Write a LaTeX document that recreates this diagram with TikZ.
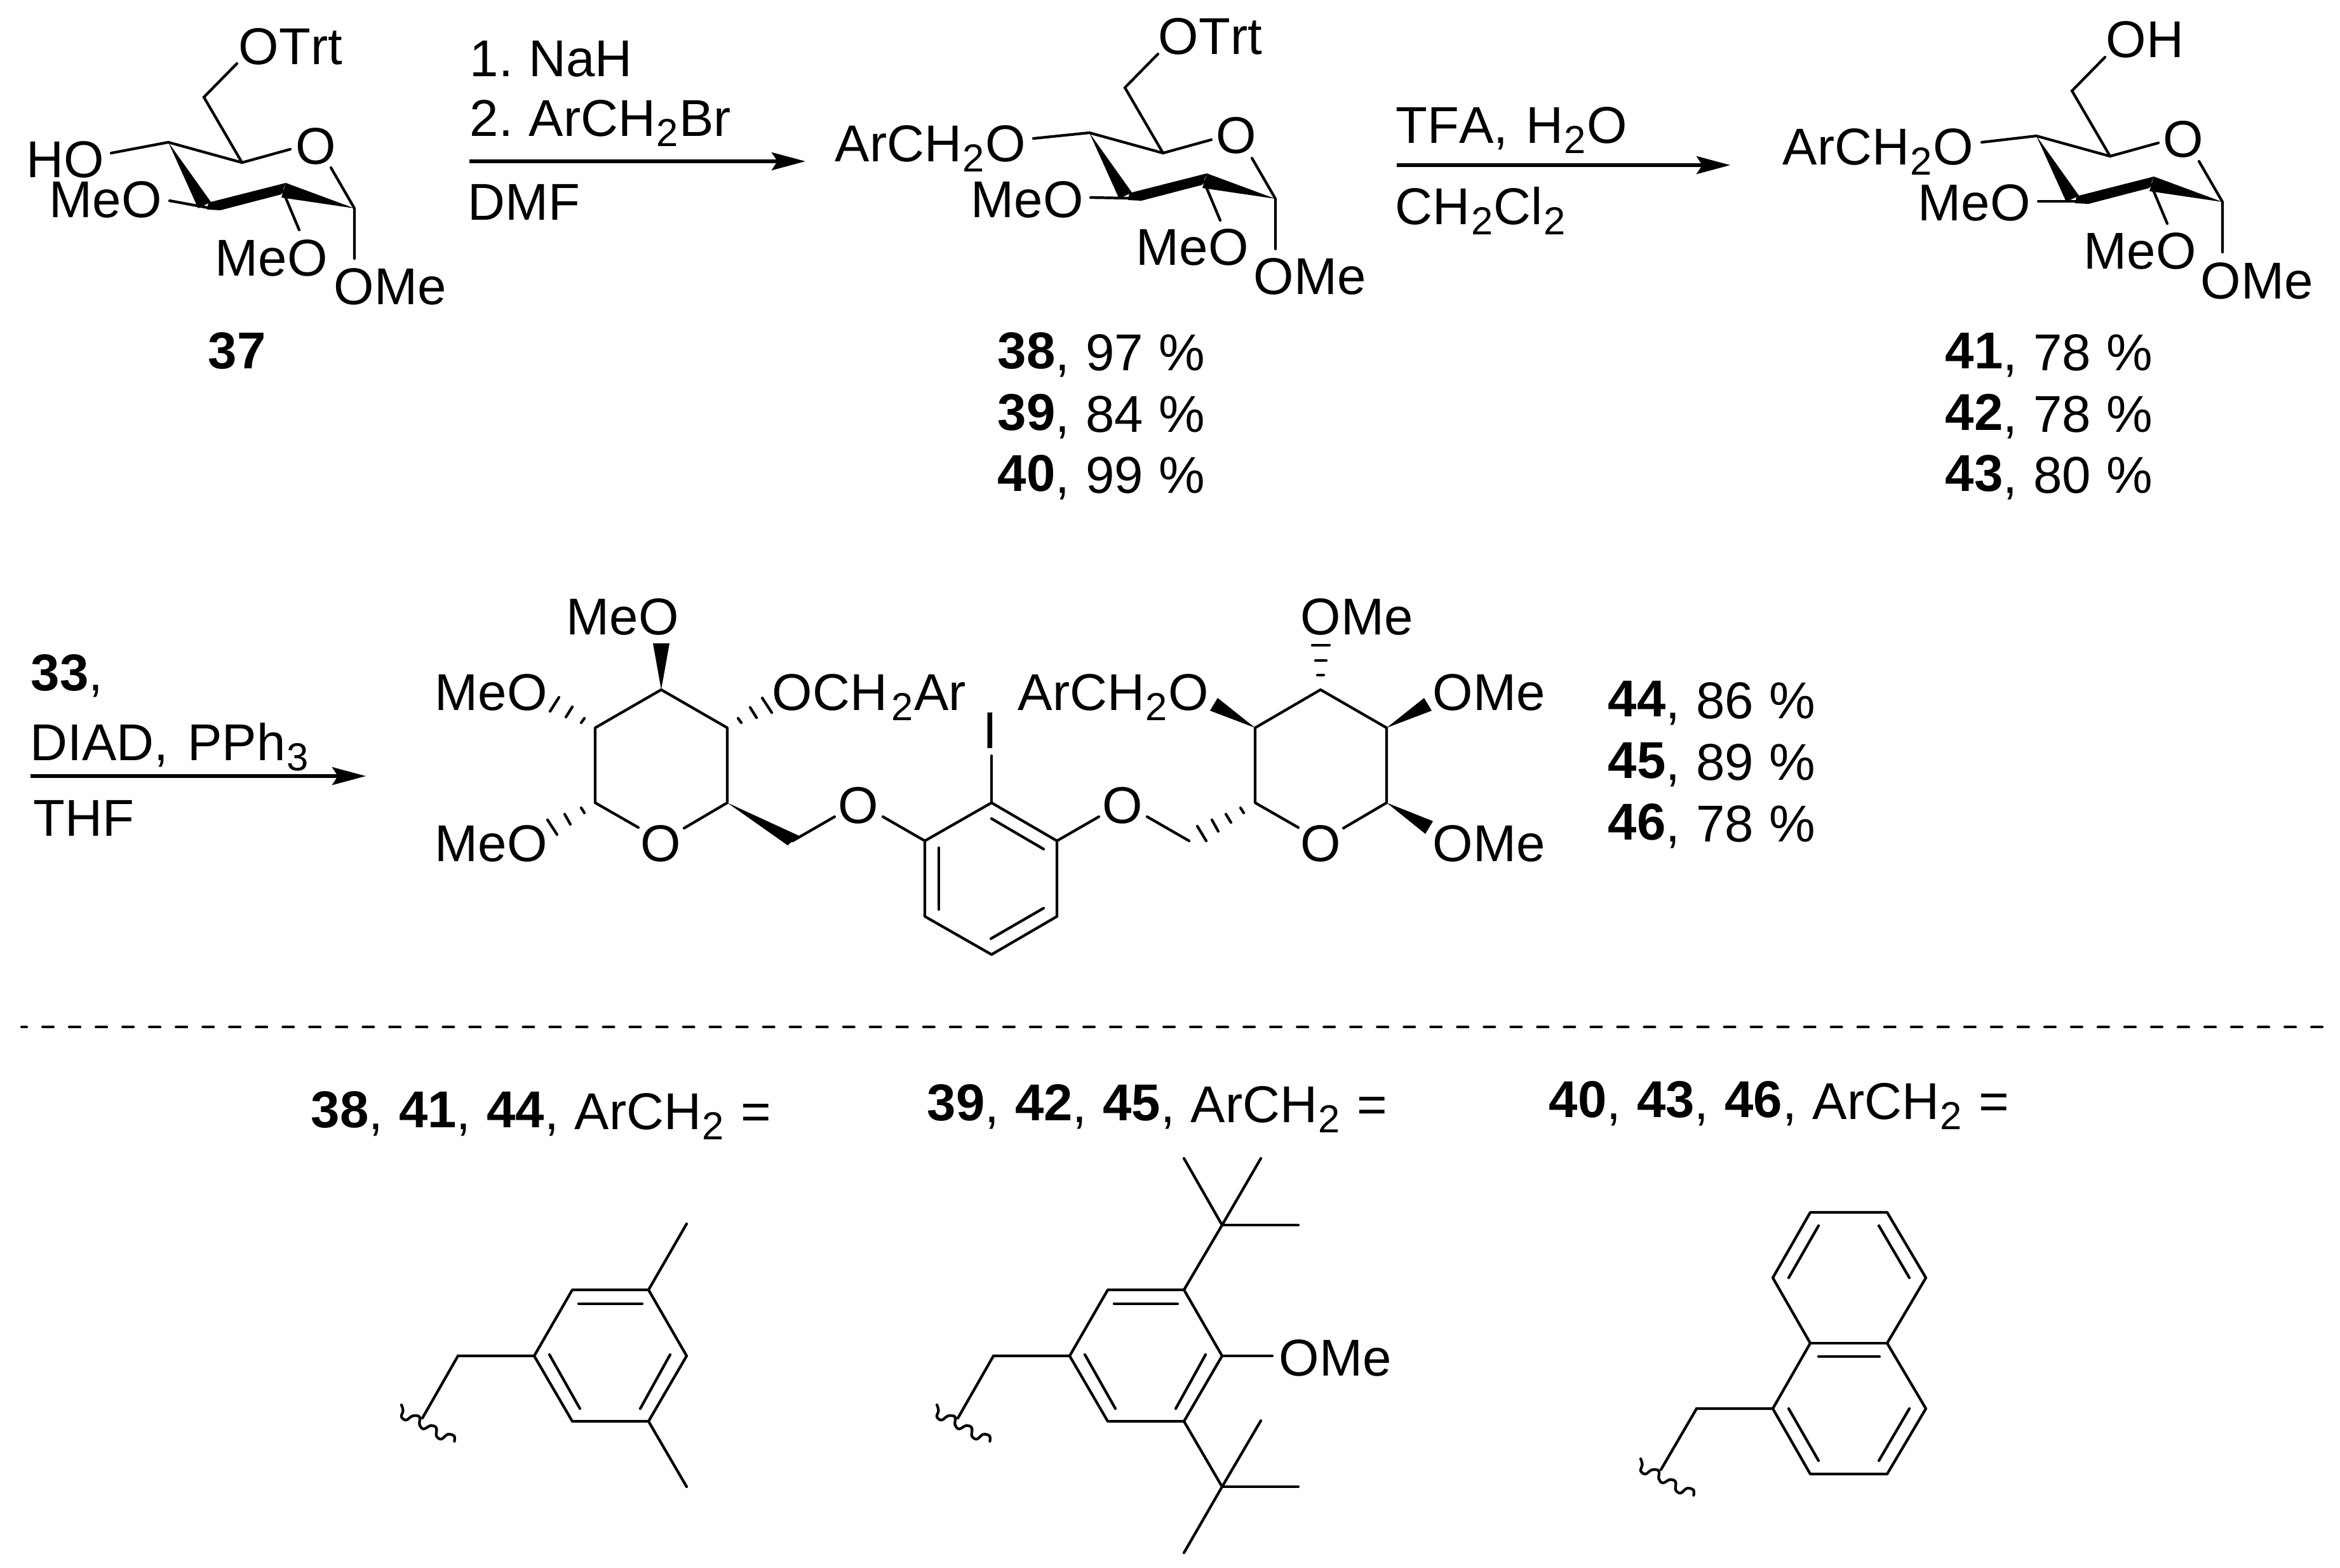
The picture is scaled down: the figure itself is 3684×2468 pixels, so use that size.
\documentclass[tikz,border=0pt]{standalone}
\usepackage{fontspec}
\setmainfont[Kerning=Off]{Liberation Sans}
\usetikzlibrary{arrows.meta}
\def\atomfont{\fontsize{23.2}{26}\selectfont\frenchspacing\setlength{\spaceskip}{0.25cm}}
\tikzset{
	atom/.style={inner sep=0, anchor=base west, font=\atomfont},
	bond/.style={line width=1.2pt, line cap=round},
	wedge/.style={fill=black},
	rxn/.style={line width=1.45pt, -{Stealth[length=0.53cm, width=0.28cm, inset=0.09cm]}}
}
\def\sub#1{\kern0.015cm\raisebox{-0.165cm}{\fontsize{17.5}{18}\selectfont #1}\kern0.015cm\relax}
\def\cpd#1{\raisebox{0.03cm}{\bfseries #1}}
\def\wiggle(#1,#2){\draw[bond, shift={(#1,#2)}] plot[smooth, tension=0.6] coordinates {(0,0) (2.5,9) (0,19) (7.5,24) (17.5,17.5) (28.5,19) (28.5,31.5) (35,38) (46.6,32.5) (55,36.5) (55,49) (62.8,54) (72.8,46.5) (82.9,49) (83.4,57.5)};}
% sugar ring seen from the side, drawn where molecule 37 stands
\def\glycore{
	\coordinate (c1) at (558,328);
	\coordinate (c2) at (448,298);
	\coordinate (c3) at (327,327);
	\coordinate (c4) at (265,224);
	\coordinate (c5) at (381,256);
	\coordinate (c6) at (321,153);
	\draw[bond] (c4) -- (c5) -- (457,235);
	\draw[bond] (521,264) -- (c1) -- (558,407);
	\draw[bond] (c5) -- (c6) -- (373,100);
	\draw[bond] (445,300) -- (471,362);
	\fill[wedge] (c4) -- (312,328) -- (332,318) -- cycle;
	\fill[wedge] (328,319) -- (450,288) -- (443,306) -- (347,331) -- (326,330) -- cycle;
	\fill[wedge] (c1) -- (450,288) -- (443,311) -- cycle;
}
% benzyl ring with its tail
\def\benzyl{
	\coordinate (r1) at (841,2135);
	\coordinate (r2) at (901,2031);
	\coordinate (r3) at (1021,2031);
	\coordinate (r4) at (1081,2135);
	\coordinate (r5) at (1021,2238);
	\coordinate (r6) at (901,2238);
	\draw[bond, line join=round] (r1) -- (r2) -- (r3) -- (r4) -- (r5) -- (r6) -- cycle;
	\draw[bond] (911,2053) -- (1011,2053);
	\draw[bond] (865,2133) -- (913,2218);
	\draw[bond] (1055,2133) -- (1008,2218);
	\draw[bond] (r1) -- (721,2135) -- (665,2233);
	\wiggle(632,2212)
}

\begin{document}
\begin{tikzpicture}[x=0.01cm, y=-0.01cm]
		\useasboundingbox (0,0) rectangle (3684,2468);
		
		%%%%% 37 %%%%%
		\begin{scope}[name prefix=a-]
			\glycore
			\draw[bond] (a-c4) -- (175,241);
			\draw[bond] (267,316) -- (a-c3);
			\node[atom] (a-trt) at (375,101) {OTrt};
			\node[atom] (a-ho) at (41,279) {HO};
			\node[atom] (a-me3) at (77,342) {MeO};
			\node[atom] (a-me2) at (338,434) {MeO};
			\node[atom] (a-me1) at (525,479) {OMe};
			\node[atom, anchor=base] (a-o) at (497,258) {O};
		\end{scope}
		\node[atom] (n37) at (327,580) {\bfseries 37};
		
		%%%%% first arrow %%%%%
		\node[atom] (nah) at (739,120) {1. NaH};
		\node[atom] (arbr) at (739,214) {2. ArCH\sub{2}Br};
		\node[atom] (dmf) at (736,346) {DMF};
		\coordinate (s1) at (739,254);
		\coordinate (e1) at (1268,254);
		\draw[rxn] (s1) -- (e1);
		
		%%%%% 38 %%%%%
		\begin{scope}[shift={(1450,-15)}, name prefix=b-]
			\glycore
			\node[atom] (b-trt) at (373,100) {OTrt};
			\node[atom] (b-me2) at (338,432) {MeO};
			\node[atom] (b-me1) at (523,478) {OMe};
			\node[atom, anchor=base] (b-o) at (496,256) {O};
		\end{scope}
		\draw[bond] (b-c4) -- (1627,218);
		\draw[bond] (1717,311) -- (b-c3);
		\node[atom] (b-ar) at (1314,254) {ArCH\sub{2}O};
		\node[atom] (b-me3) at (1528,342) {MeO};
		\node[atom] (y38) at (1570,583) {\cpd{38}, 97 \%};
		\node[atom] (y39) at (1570,680) {\cpd{39}, 84 \%};
		\node[atom] (y40) at (1570,776) {\cpd{40}, 99 \%};
		
		%%%%% second arrow %%%%%
		\node[atom] (tfa) at (2197,225) {TFA,\hspace{0.03cm} H\sub{2}O};
		\node[atom] (dcm) at (2196,353) {CH\sub{2}Cl\sub{2}};
		\coordinate (s2) at (2199,260);
		\coordinate (e2) at (2724,260);
		\draw[rxn] (s2) -- (e2);
		
		%%%%% 41 %%%%%
		\begin{scope}[shift={(2941,-10)}, name prefix=c-]
			\glycore
			\node[atom] (c-oh) at (374,100) {OH};
			\node[atom] (c-me2) at (339,433) {MeO};
			\node[atom] (c-me1) at (523,480) {OMe};
			\node[atom, anchor=base] (c-o) at (496,257) {O};
		\end{scope}
		\draw[bond] (c-c4) -- (3120,224);
		\draw[bond] (3209,317) -- (c-c3);
		\node[atom] (c-ar) at (2806,259) {ArCH\sub{2}O};
		\node[atom] (c-me3) at (3019,347) {MeO};
		\node[atom] (y41) at (3062,583) {\cpd{41}, 78 \%};
		\node[atom] (y42) at (3062,680) {\cpd{42}, 78 \%};
		\node[atom] (y43) at (3062,776) {\cpd{43}, 80 \%};
		
		%%%%% third arrow %%%%%
		\node[atom] (n33) at (48,1087) {\bfseries 33\mdseries,};
		\node[atom] (diad) at (47,1197) {DIAD,\hspace{0.05cm} PPh\sub{3}};
		\node[atom] (thf) at (52,1316) {THF};
		\coordinate (s3) at (48,1222);
		\coordinate (e3) at (576,1222);
		\draw[rxn] (s3) -- (e3);
		
		%%%%% 44 left sugar %%%%%
		\draw[bond, line join=round] (1005,1303) -- (937,1264) -- (937,1146) -- (1041,1086) -- (1145,1146) -- (1145,1264) -- (1077,1304);
		\fill[wedge] (1041,1086) -- (1028,1013) -- (1054,1013) -- cycle;
		\fill[wedge] (1145,1264) -- (1258,1316) -- (1240,1331) -- cycle;
		\draw[bond] (1248,1324) -- (1314,1286);
		\draw[bond] (866,1120) -- (880,1098);
		\draw[bond] (891,1129) -- (901,1113);
		\draw[bond] (915,1138) -- (920,1131);
		\draw[bond] (862,1291) -- (877,1314);
		\draw[bond] (889,1282) -- (898,1298);
		\draw[bond] (915,1272) -- (920,1280);
		\draw[bond] (1200,1099) -- (1215,1122);
		\draw[bond] (1181,1114) -- (1191,1130);
		\draw[bond] (1162,1131) -- (1167,1138);
		\node[atom] (d-me4) at (891,999) {MeO};
		\node[atom] (d-me3) at (684,1118) {MeO};
		\node[atom] (d-me1) at (684,1356) {MeO};
		\node[atom] (d-ar) at (1215,1118) {OCH\kern0.05cm\sub{2}Ar};
		\node[atom, anchor=base] (d-o) at (1040,1356) {O};
		\node[atom, anchor=base] (d-ol) at (1351,1296) {O};
		
		%%%%% 44 middle ring %%%%%
		\draw[bond, line join=round] (1561,1264) -- (1456,1324) -- (1456,1443) -- (1561,1503) -- (1664,1443) -- (1664,1324) -- cycle;
		\draw[bond] (1561,1289) -- (1643,1337);
		\draw[bond] (1478,1335) -- (1478,1432);
		\draw[bond] (1643,1430) -- (1560,1478);
		\draw[bond] (1561,1264) -- (1561,1190);
		\draw[bond] (1390,1286) -- (1456,1324);
		\draw[bond] (1664,1324) -- (1730,1286);
		\node[atom, anchor=base] (iodo) at (1559,1178) {I};
		\node[atom, anchor=base] (d-or) at (1767,1296) {O};
		
		%%%%% 44 right sugar %%%%%
		\draw[bond, line join=round] (2044,1303) -- (1976,1264) -- (1976,1146) -- (2079,1086) -- (2183,1146) -- (2183,1264) -- (2115,1304);
		\draw[bond] (1806,1286) -- (1872,1324);
		\fill[wedge] (1976,1146) -- (1917,1099) -- (1905,1119) -- cycle;
		\fill[wedge] (2183,1146) -- (2242,1099) -- (2254,1119) -- cycle;
		\fill[wedge] (2183,1264) -- (2256,1293) -- (2244,1313) -- cycle;
		\draw[bond] (1885,1301) -- (1899,1324);
		\draw[bond] (1908,1291) -- (1918,1309);
		\draw[bond] (1930,1282) -- (1938,1295);
		\draw[bond] (1953,1272) -- (1958,1280);
		\draw[bond] (2066,1016) -- (2093,1016);
		\draw[bond] (2071,1040) -- (2088,1040);
		\draw[bond] (2074,1063) -- (2084,1063);
		\node[atom] (e-ar) at (1602,1118) {ArCH\sub{2}O};
		\node[atom] (e-me4) at (2047,999) {OMe};
		\node[atom] (e-me3) at (2255,1118) {OMe};
		\node[atom] (e-me1) at (2255,1356) {OMe};
		\node[atom, anchor=base] (e-o) at (2079,1356) {O};
		\node[atom] (y44) at (2531,1131) {\cpd{44}, 86 \%};
		\node[atom] (y45) at (2531,1228) {\cpd{45}, 89 \%};
		\node[atom] (y46) at (2531,1325) {\cpd{46}, 78 \%};
		
		%%%%% rule %%%%%
		\coordinate (rl) at (34,1617);
		\coordinate (rr) at (3660,1617);
		\draw[line width=1.15pt, line cap=round, dash pattern=on 0.17cm off 0.25cm, dash phase=0.09cm] (rl) -- (rr);
		
		%%%%% ArCH2 groups %%%%%
		\node[atom] (cap1) at (489,1778) {\cpd{38}, \cpd{41}, \cpd{44}, ArCH\sub{2} =};
		\node[atom] (cap2) at (1459,1767) {\cpd{39}, \cpd{42}, \cpd{45}, ArCH\sub{2} =};
		\node[atom] (cap3) at (2438,1762) {\cpd{40}, \cpd{43}, \cpd{46}, ArCH\sub{2} =};
		
		\begin{scope}[name prefix=m-]
			\benzyl
			\draw[bond] (m-r3) -- (1081,1927);
			\draw[bond] (m-r5) -- (1081,2341);
		\end{scope}
		
		\begin{scope}[shift={(843,0)}, name prefix=t-]
			\benzyl
			\coordinate (tu) at (1081,1929);
			\coordinate (tl) at (1081,2341);
			\draw[bond] (t-r3) -- (t-tu);
			\draw[bond] (t-tu) -- (1021,1824);
			\draw[bond] (t-tu) -- (1142,1824);
			\draw[bond] (t-tu) -- (1201,1929);
			\draw[bond] (t-r5) -- (t-tl);
			\draw[bond] (t-tl) -- (1142,2237);
			\draw[bond] (t-tl) -- (1201,2341);
			\draw[bond] (t-tl) -- (1021,2445);
			\draw[bond] (t-r4) -- (1160,2135);
		\end{scope}
		\node[atom] (t-me) at (2013,2166) {OMe};
		
		\draw[bond, line join=round] (2850,2115) -- (2791,2012) -- (2850,1909) -- (2971,1909) -- (3032,2012) -- (2971,2115) -- (3032,2218) -- (2971,2321) -- (2850,2321) -- (2791,2218) -- cycle;
		\draw[bond] (2850,2115) -- (2971,2115);
		\draw[bond] (2863,1930) -- (2816,2012);
		\draw[bond] (2958,1930) -- (3006,2012);
		\draw[bond] (2863,2136) -- (2959,2136);
		\draw[bond] (2816,2218) -- (2863,2300);
		\draw[bond] (3006,2218) -- (2958,2300);
		\draw[bond] (2791,2218) -- (2671,2218) -- (2615,2314);
		\wiggle(2583,2297)
	\end{tikzpicture}
\end{document}
